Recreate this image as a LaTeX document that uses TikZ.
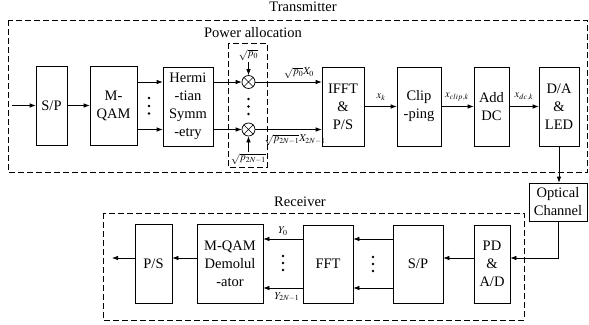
\documentclass[tikz,border=0pt]{standalone}
\usepackage{mathptmx}
\usepackage[no-math]{fontspec}
\setmainfont{Liberation Serif}
\usetikzlibrary{arrows.meta,calc}
\begin{document}
\begin{tikzpicture}[x=1pt,y=-1pt,
  box/.style={draw,line width=0.7pt,align=center,inner sep=0pt,font=\fontsize{14.5}{18}\selectfont},
  lbl/.style={inner sep=1pt,font=\fontsize{10.5}{12}\selectfont},
  ttl/.style={inner sep=0pt,font=\fontsize{14.5}{18}\selectfont},
  frame/.style={draw,line width=0.7pt,dash pattern=on 6pt off 3pt},
  arr/.style={line width=0.7pt,-{Latex[length=6pt,width=4.5pt]}},
  mult/.style={circle,draw,line width=0.7pt,minimum size=13pt,inner sep=0pt},
  dotsn/.style={circle,fill,inner sep=0pt,minimum size=2.6pt}]
\path[use as bounding box] (0,0) rectangle (589,324);

% frames
\draw[frame] (8,20) rectangle (587.5,172);
\draw[frame] (228,43) rectangle (267,167);
\draw[frame] (103,213) rectangle (524,320);
\node[ttl] (ttx) at (303,7) {Transmitter};
\node[ttl] (tpa) at (253,33) {Power allocation};
\node[ttl] (trx) at (300,202) {Receiver};

% transmitter blocks
\node[box,minimum width=31pt,minimum height=79pt] (sp) at (51.5,105.5) {S/P};
\node[box,minimum width=47pt,minimum height=79pt] (mqam) at (113.5,105.5) {M-\\QAM};
\node[box,minimum width=50pt,minimum height=79pt] (herm) at (188,106.5) {Hermi\\-tian\\Symm\\-etry};
\node[box,minimum width=42pt,minimum height=79pt] (ifft) at (343,106.5) {IFFT\\\&\\P/S};
\node[box,minimum width=44pt,minimum height=79pt] (clip) at (419,106.5) {Clip\\-ping};
\node[box,minimum width=35pt,minimum height=79pt] (adddc) at (491.5,106.5) {Add\\DC};
\node[box,minimum width=40pt,minimum height=79pt] (da) at (559,106.5) {D/A\\\&\\LED};
\node[box,minimum width=58pt,minimum height=38pt] (opt) at (558,202) {Optical\\Channel};

% multipliers
\node[mult] (m1) at (248.5,82) {};
\node[mult] (m2) at (248.5,129.5) {};
\draw[line width=0.7pt] (m1.north west)--(m1.south east) (m1.north east)--(m1.south west);
\draw[line width=0.7pt] (m2.north west)--(m2.south east) (m2.north east)--(m2.south west);
\node[lbl] (p0) at (248.5,55) {$\sqrt{p_0}$};
\node[lbl] (p2n) at (248.5,159) {$\sqrt{p_{2N-1}}$};
\draw[arr] (p0.south) -- (m1.north);
\draw[arr] (p2n.north) -- (m2.south);

% dots
\foreach \n/\x/\y in {a/149/98, b/149/106, c/149/113.5,
                      d/248.5/99, e/248.5/106.5, f/248.5/114,
                      g/373/257, h/373/264, i/373/271,
                      j/283/256, k/283/263, l/283/270}
  \node[dotsn] (dot\n) at (\x,\y) {};

% input
\coordinate (in) at (12,105.5);
\draw[arr] (in) -- (sp.west);
\draw[arr] (sp.east) -- (mqam.west);
\draw[arr] (mqam.east |- m1) -- (herm.west |- m1);
\draw[arr] (mqam.east |- m2) -- (herm.west |- m2);
\draw[arr] (herm.east |- m1) -- (m1.west);
\draw[arr] (herm.east |- m2) -- (m2.west);
\draw[arr] (m1.east) -- (ifft.west |- m1);
\draw[arr] (m2.east) -- (ifft.west |- m2);
\node[lbl] (l1) at (299,73) {$\sqrt{p_0}X_0$};
\node[lbl] (l2) at (295,140) {$\sqrt{p_{2N-1}}X_{2N-1}$};

\draw[arr] (ifft.east) -- (clip.west);
\node[lbl] (lxk) at (381,97) {$x_k$};
\draw[arr] (clip.east) -- (adddc.west);
\node[lbl] (lxc) at (457,97) {$x_{clip,k}$};
\draw[arr] (adddc.east) -- (da.west);
\node[lbl] (lxd) at (524,97) {$x_{dc,k}$};
\draw[arr] (da.south) -- (da.south |- opt.north);

% receiver blocks
\coordinate (rmain) at (0,258);
\coordinate (r1) at (0,239);
\coordinate (r2) at (0,288);
\node[box,minimum width=36pt,minimum height=78pt] (pd) at (492,264) {PD\\\&\\A/D};
\node[box,minimum width=50pt,minimum height=78pt] (sp2) at (418,264) {S/P};
\node[box,minimum width=50pt,minimum height=78pt] (fft) at (328,264) {FFT};
\node[box,minimum width=66pt,minimum height=79pt] (demod) at (230,263.5) {M-QAM\\Demolul\\-ator};
\node[box,minimum width=37pt,minimum height=79pt] (ps) at (153.5,263.5) {P/S};

\draw[arr] (opt.south) |- (pd.east |- rmain);
\draw[arr] (pd.west |- rmain) -- (sp2.east |- rmain);
\draw[arr] (sp2.west |- r1) -- (fft.east |- r1);
\draw[arr] (sp2.west |- r2) -- (fft.east |- r2);
\draw[arr] (fft.west |- r1) -- (demod.east |- r1);
\draw[arr] (fft.west |- r2) -- (demod.east |- r2);
\node[lbl] (ly0) at (283,231) {$Y_0$};
\node[lbl] (ly1) at (287,297) {$Y_{2N-1}$};
\draw[arr] (demod.west |- rmain) -- (ps.east |- rmain);
\coordinate (out) at (112,258);
\draw[arr] (ps.west |- rmain) -- (out);
\end{tikzpicture}
\end{document}
